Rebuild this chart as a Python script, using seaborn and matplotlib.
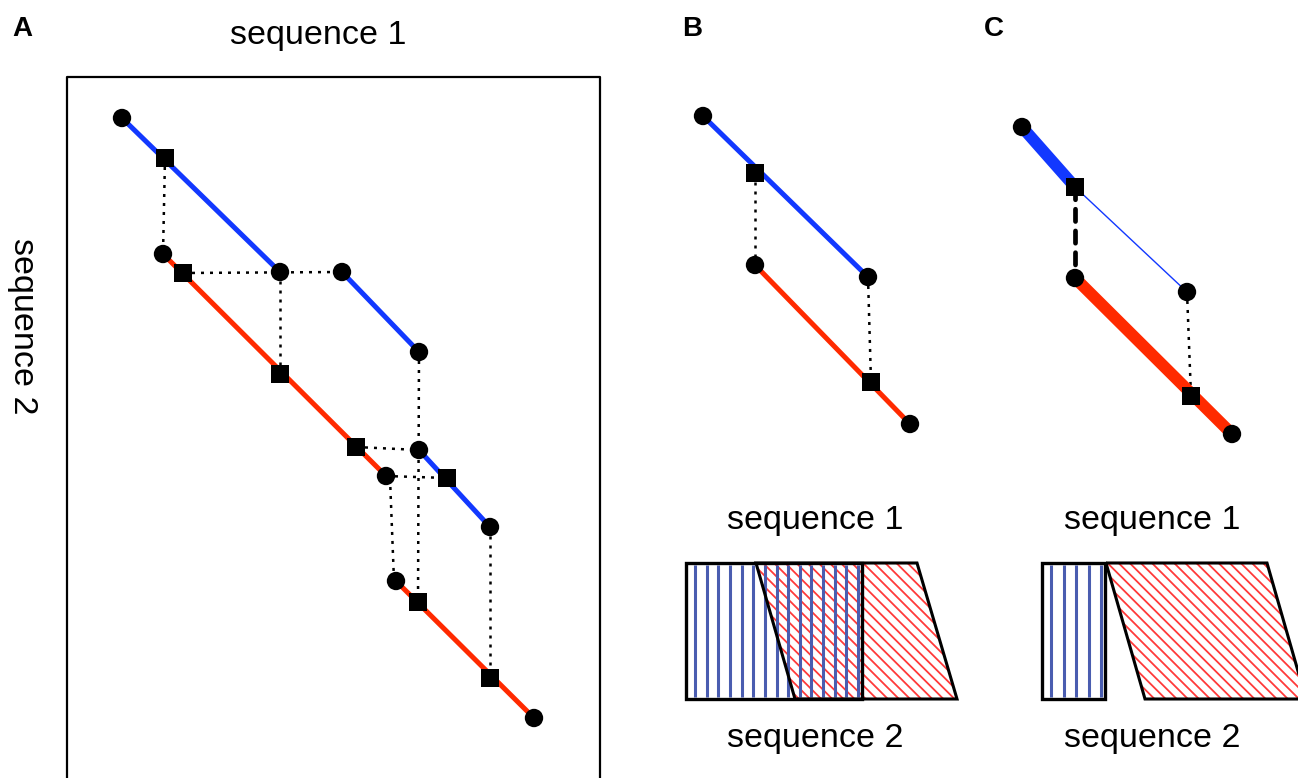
import matplotlib
matplotlib.use("Agg")
import matplotlib.pyplot as plt
import numpy as np
import pandas as pd
import seaborn as sns
from matplotlib.patches import Polygon, Rectangle

# ---- panel A (pixel coordinates of the figure, y down) ----
a_blue = [[(122, 118), (280, 272)], [(342, 272), (419, 352)], [(419, 450), (490, 527)]]
a_red = [[(163, 254), (386, 476)], [(396, 581), (534, 718)]]
a_dotted = [
    [(165, 158), (163, 254)], [(183, 273), (342, 272)], [(280, 272), (280, 374)],
    [(419, 352), (418, 602)], [(356, 447), (419, 450)], [(386, 476), (447, 478)],
    [(390, 478), (394, 581)], [(490, 527), (490, 678)],
]
a_circles_x = [122, 280, 342, 419, 419, 490, 163, 386, 396, 534]
a_circles_y = [118, 272, 272, 352, 450, 527, 254, 476, 581, 718]
a_squares_x = [165, 183, 280, 356, 447, 418, 490]
a_squares_y = [158, 273, 374, 447, 478, 602, 678]

# ---- panel B ----
b_blue = [[(703, 116), (868, 277)]]
b_red = [[(755, 265), (910, 424)]]
b_dotted = [[(755, 173), (755, 265)], [(868, 277), (871, 382)]]
b_circles_x = [703, 868, 755, 910]
b_circles_y = [116, 277, 265, 424]
b_squares_x = [755, 871]
b_squares_y = [173, 382]

# ---- panel C ----
c_blue_thick = [[(1022, 127), (1075, 187)]]
c_blue_thin = [[(1075, 187), (1187, 292)]]
c_red_thick = [[(1075, 278), (1232, 434)]]
c_dashed = [[(1075, 187), (1075, 278)]]
c_dotted = [[(1187, 292), (1191, 396)]]
c_circles_x = [1022, 1187, 1075, 1232]
c_circles_y = [127, 292, 278, 434]
c_squares_x = [1075, 1191]
c_squares_y = [187, 396]

# ---- bottom alignment diagrams ----
b_rect = (686, 563, 862, 699)
b_para = [(756, 563), (917, 563), (957, 699), (795, 699)]
c_rect = (1042, 563, 1105, 699)
c_para = [(1106, 563), (1267, 563), (1306, 699), (1145, 699)]

BLUE = "#1238ff"
RED = "#ff2a00"
HATCH_BLUE = "#4a5db0"
HATCH_RED = "#ff3a3a"

sns.set_theme(style="white")
plt.rcParams["font.family"] = ["Liberation Sans", "DejaVu Sans"]
plt.rcParams["hatch.linewidth"] = 1.3

fig = plt.figure(figsize=(12.98, 7.78), dpi=100)
ax = fig.add_axes([0, 0, 1, 1])
ax.set_xlim(0, 1298)
ax.set_ylim(778, 0)
ax.axis("off")


def draw_segs(segs, **kw):
    for (x0, y0), (x1, y1) in segs:
        ax.plot([x0, x1], [y0, y1], **kw)


dot_kw = dict(color="black", lw=1.8, linestyle=(0, (1.2, 2.4)), zorder=2)

# panel A frame (runs off the bottom)
ax.plot([67, 67, 600, 600], [790, 77, 77, 790], color="black", lw=1.6, zorder=1)

draw_segs(a_blue, color=BLUE, lw=3.6, zorder=3, solid_capstyle="butt")
draw_segs(a_red, color=RED, lw=3.6, zorder=3, solid_capstyle="butt")
draw_segs(a_dotted, **dot_kw)
draw_segs(b_blue, color=BLUE, lw=3.6, zorder=3, solid_capstyle="butt")
draw_segs(b_red, color=RED, lw=3.6, zorder=3, solid_capstyle="butt")
draw_segs(b_dotted, **dot_kw)
draw_segs(c_blue_thick, color=BLUE, lw=8.5, zorder=3, solid_capstyle="round")
draw_segs(c_blue_thin, color=BLUE, lw=1.0, zorder=3)
draw_segs(c_red_thick, color=RED, lw=8.5, zorder=3, solid_capstyle="butt")
draw_segs(c_dashed, color="black", lw=3.4, linestyle=(0, (2.6, 2.0)),
          dash_capstyle="round", zorder=2)
draw_segs(c_dotted, **dot_kw)

circles = pd.DataFrame({
    "x": a_circles_x + b_circles_x + c_circles_x,
    "y": a_circles_y + b_circles_y + c_circles_y,
})
squares = pd.DataFrame({
    "x": a_squares_x + b_squares_x + c_squares_x,
    "y": a_squares_y + b_squares_y + c_squares_y,
})
sns.scatterplot(data=circles, x="x", y="y", marker="o", s=175, color="black",
                edgecolor="none", ax=ax, zorder=5)
sns.scatterplot(data=squares, x="x", y="y", marker="s", s=160, color="black",
                edgecolor="none", ax=ax, zorder=5)
ax.set_xlim(0, 1298)
ax.set_ylim(778, 0)
ax.set_xlabel("")
ax.set_ylabel("")


def alignment_box(rect, para, n_lines):
    x0, y0, x1, y1 = rect
    # red hatched parallelogram
    ax.add_patch(Polygon(para, closed=True, facecolor="none", edgecolor=HATCH_RED,
                         hatch="\\\\\\", lw=0, zorder=1))
    # blue vertical stripes
    xs = np.linspace(x0 + 9, x1 - 4, n_lines)
    ax.vlines(xs, y0 + 2, y1 - 2, color=HATCH_BLUE, lw=2.2, zorder=2)
    ax.add_patch(Polygon(para, closed=True, facecolor="none", edgecolor="black",
                         lw=2.2, zorder=3, joinstyle="miter"))
    ax.add_patch(Rectangle((x0, y0), x1 - x0, y1 - y0, facecolor="none",
                           edgecolor="black", lw=2.4, zorder=4))


alignment_box(b_rect, b_para, 15)
alignment_box(c_rect, c_para, 5)

txt = dict(fontsize=24.5, ha="center", va="center", color="black")
ax.text(318, 35, "sequence 1", **txt)
ax.text(22, 326, "sequence 2", rotation=-90, **txt)
ax.text(815, 520, "sequence 1", **txt)
ax.text(815, 738, "sequence 2", **txt)
ax.text(1152, 520, "sequence 1", **txt)
ax.text(1152, 738, "sequence 2", **txt)

lab = dict(fontsize=20, fontweight="bold", ha="center", va="center", color="black")
ax.text(22, 29, "A", **lab)
ax.text(692, 29, "B", **lab)
ax.text(994, 29, "C", **lab)

fig.savefig("out.png", dpi=100)
